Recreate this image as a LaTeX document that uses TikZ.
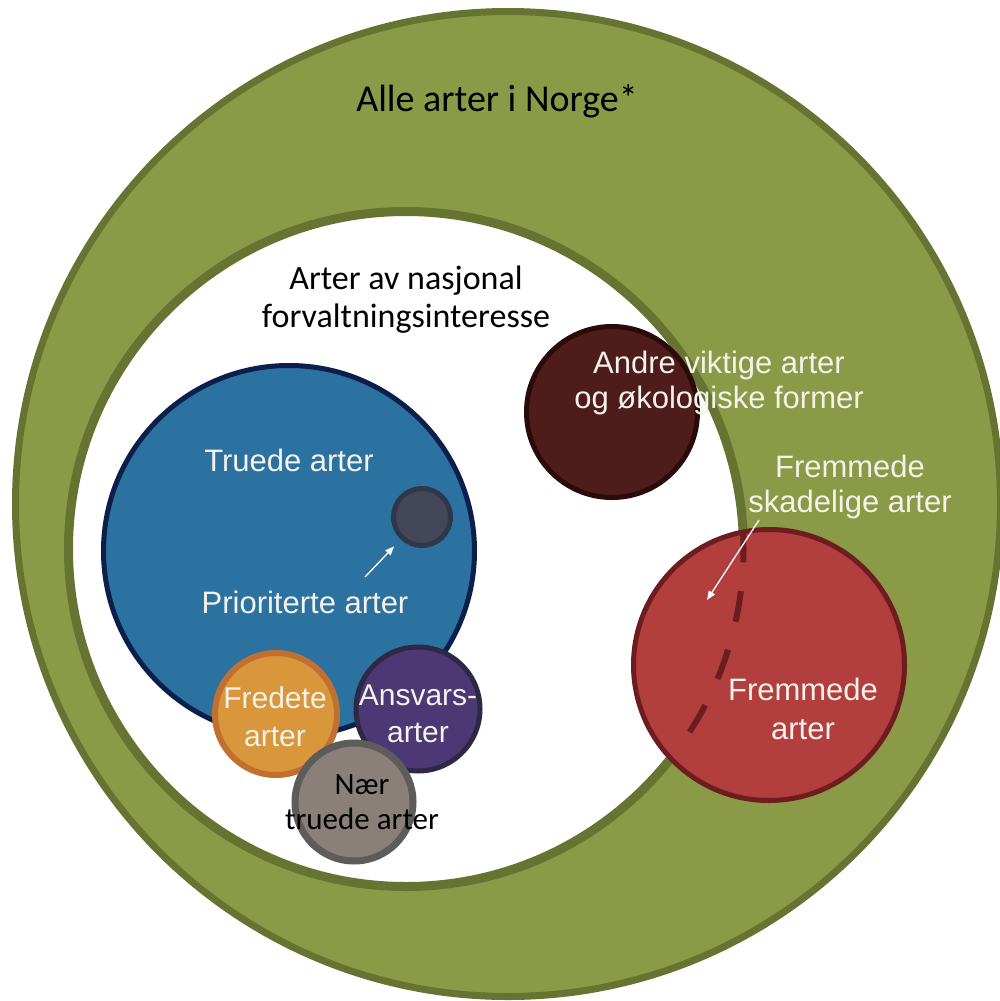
\documentclass[tikz,border=0pt]{standalone}
\usepackage{fontspec}
\setmainfont{Liberation Sans}
\newfontfamily\condfont{Carlito}
\usetikzlibrary{arrows.meta}

\definecolor{ringgreen}{HTML}{8A9A46}
\definecolor{ringedge}{HTML}{667432}
\definecolor{truedefill}{HTML}{2C72A0}
\definecolor{truedeedge}{HTML}{0B1F4D}
\definecolor{priofill}{HTML}{444659}
\definecolor{prioedge}{HTML}{2F3849}
\definecolor{andrefill}{HTML}{4E1C1A}
\definecolor{andreedge}{HTML}{2B0B09}
\definecolor{fremfill}{HTML}{B23F3D}
\definecolor{fremedge}{HTML}{6D1D20}
\definecolor{fredfill}{HTML}{D9963A}
\definecolor{frededge}{HTML}{C27030}
\definecolor{ansvfill}{HTML}{4C3874}
\definecolor{ansvedge}{HTML}{2F2844}
\definecolor{naerfill}{HTML}{8A8079}
\definecolor{naeredge}{HTML}{5E5C5A}
\definecolor{lbllight}{HTML}{F4F2EA}

\begin{document}
\begin{tikzpicture}[x=1pt,y=1pt,yscale=-1,xscale=1,
  disc/.style={circle,inner sep=0pt,outer sep=0pt},
  lightlbl/.style={text=lbllight,align=center,inner sep=0pt,font=\fontsize{31}{35}\selectfont},
  darklbl/.style={text=black,align=center,inner sep=0pt,font=\condfont\fontsize{34}{38}\selectfont},
  pointer/.style={draw=white,line width=1.3,-{Triangle[length=9pt,width=7pt]}}]
\useasboundingbox (0,0) rectangle (999,1001);

%Circle: all species
\node [disc, draw=ringedge, fill=ringgreen, line width=7, minimum size=985] (alle) at (508,504) {};
%Circle: national interest
\node [disc, draw=ringedge, fill=white, line width=9, minimum size=675] (nasjonal) at (406,549) {};
%Circle: threatened
\node [disc, draw=truedeedge, fill=truedefill, line width=5, minimum size=371] (truede) at (289,551) {};
%Circle: prioritised
\node [disc, draw=prioedge, fill=priofill, line width=5, minimum size=57] (prior) at (422,517) {};
%Circle: other important
\node [disc, draw=andreedge, fill=andrefill, line width=5, minimum size=171] (andre) at (612,412) {};
%Circle: alien
\node [disc, draw=fremedge, fill=fremfill, line width=5, minimum size=271] (fremmede) at (769,665) {};
%Dashed arc: harmful alien
\draw [fremedge, line width=6, dash pattern=on 31 off 29] ([shift={(-3:337.5)}]nasjonal.center) arc [start angle=-3, end angle=33.5, radius=337.5];
%Circle: protected
\node [disc, draw=frededge, fill=fredfill, line width=6, minimum size=122] (fredete) at (276,714) {};
%Circle: responsibility
\node [disc, draw=ansvedge, fill=ansvfill, line width=5, minimum size=124] (ansvar) at (418,709) {};
%Circle: near threatened
\node [disc, draw=naeredge, fill=naerfill, line width=7, minimum size=118] (naer) at (354,802) {};

% Text Node
\node [darklbl, font=\condfont\fontsize{38}{40}\selectfont] (allelbl) at (497,101) {Alle arter i Norge*};
% Text Node
\node [darklbl] (nasjlbl) at (406,300) {Arter av nasjonal\\forvaltningsinteresse};
% Text Node
\node [lightlbl] (truedelbl) at (289,460) {Truede arter};
% Text Node
\node [lightlbl] (priolbl) at (305,602) {Prioriterte arter};
% Text Node
\node [lightlbl] (andrelbl) at (719,383) {Andre viktige arter\\og økologiske former};
% Text Node
\node [lightlbl] (skadlbl) at (850,487) {Fremmede\\skadelige arter};
% Text Node
\node [lightlbl, font=\fontsize{31}{39}\selectfont] (fremlbl) at (803,709) {Fremmede\\arter};
% Text Node
\node [lightlbl, font=\fontsize{30}{38}\selectfont] (fredlbl) at (275,717) {Fredete\\arter};
% Text Node
\node [lightlbl, font=\fontsize{30}{37}\selectfont] (ansvlbl) at (418,714) {Ansvars-\\arter};
% Text Node
\node [darklbl, font=\condfont\fontsize{31}{35}\selectfont] (naerlbl) at (362,802) {Nær\\truede arter};

%Arrows
\coordinate (priotail) at (365,577);
\draw [pointer, shorten >=12pt] (priotail) -- (prior);
\coordinate (skadtail) at (759,520);
\coordinate (skadtip) at (707,600);
\draw [pointer] (skadtail) -- (skadtip);

\end{tikzpicture}
\end{document}
